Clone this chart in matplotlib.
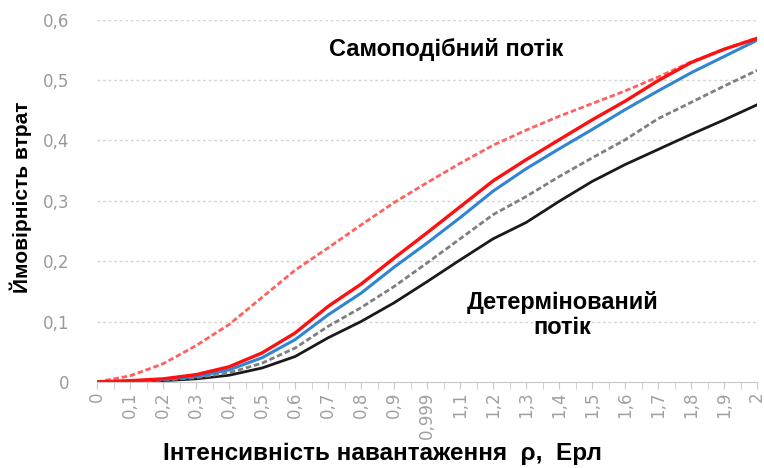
import numpy as np
import matplotlib.pyplot as plt

plt.rcParams['font.family'] = ['Liberation Sans', 'DejaVu Sans']

# категорії осі x (інтенсивність навантаження, Ерл)
x_labels = ['0', '0,1', '0,2', '0,3', '0,4', '0,5', '0,6', '0,7', '0,8', '0,9', '0,999',
            '1,1', '1,2', '1,3', '1,4', '1,5', '1,6', '1,7', '1,8', '1,9', '2']

# ймовірність втрат
red_dash = [0, 0.01, 0.03, 0.06, 0.095, 0.14, 0.185, 0.222, 0.26, 0.297, 0.33,
            0.362, 0.392, 0.417, 0.44, 0.461, 0.482, 0.505, 0.53, 0.551, 0.57]
red = [0, 0.002, 0.005, 0.012, 0.025, 0.048, 0.081, 0.125, 0.162, 0.205, 0.247,
       0.29, 0.333, 0.368, 0.401, 0.434, 0.465, 0.499, 0.529, 0.551, 0.569]
blue = [0, 0.001, 0.004, 0.009, 0.02, 0.04, 0.07, 0.111, 0.147, 0.19, 0.23,
        0.272, 0.316, 0.353, 0.386, 0.418, 0.451, 0.482, 0.512, 0.539, 0.566]
gray = [0, 0.001, 0.003, 0.007, 0.015, 0.031, 0.056, 0.092, 0.123, 0.158, 0.197,
        0.237, 0.277, 0.307, 0.34, 0.371, 0.401, 0.436, 0.463, 0.49, 0.516]
black = [0, 0.0, 0.002, 0.005, 0.011, 0.023, 0.042, 0.073, 0.1, 0.131, 0.166,
         0.202, 0.237, 0.264, 0.299, 0.332, 0.36, 0.385, 0.41, 0.434, 0.459]

y_ticks = [0, 0.1, 0.2, 0.3, 0.4, 0.5, 0.6]
y_labels = ['0', '0,1', '0,2', '0,3', '0,4', '0,5', '0,6']

fig = plt.figure(figsize=(7.64, 4.68), dpi=100)
ax = fig.add_axes([0.127, 0.184, 0.864, 0.774])

x = np.arange(len(x_labels))

for yt in y_ticks[1:]:
    ax.axhline(yt, color='#d4d4d4', lw=1, ls=(0, (2, 2)), zorder=0)

ax.plot(x, black, color='#1a1a1a', lw=2)
ax.plot(x, gray, color='#7f7f7f', lw=2, ls=(0, (2, 1)))
ax.plot(x, red_dash, color='#ff6060', lw=2, ls=(0, (2, 1)))
ax.plot(x, blue, color='#2f84d4', lw=2.2)
ax.plot(x, red, color='#ff1010', lw=2.4)

ax.set_xlim(0, len(x_labels) - 1)
ax.set_ylim(0, 0.6)

ax.set_xticks(x)
ax.set_xticklabels(x_labels, rotation=90, color='#a0a0a0', fontsize=12,
                   family=['DejaVu Sans'])
ax.set_xticks(x[:-1] + 0.5, minor=True)
ax.tick_params(axis='x', which='both', length=5, color='#c8c8c8', pad=2)

ax.set_yticks(y_ticks)
ax.set_yticklabels(y_labels, color='#999999', fontsize=12, family=['DejaVu Sans'])
ax.tick_params(axis='y', length=0, pad=20)

for s in ['top', 'right', 'left']:
    ax.spines[s].set_visible(False)
ax.spines['bottom'].set_color('#c8c8c8')

fig.text(0.027, 0.579, 'Ймовірність втрат', fontsize=15, fontweight='bold',
         rotation=90, ha='center', va='center')
fig.text(0.501, 0.03, 'Інтенсивність навантаження  ρ,  Ерл', fontsize=17.5,
         fontweight='bold', ha='center', va='center')

ax.text(10.58, 0.55, 'Самоподібний потік', fontsize=17, fontweight='bold',
        ha='center', va='center')
ax.text(14.1, 0.111, 'Детермінований\nпотік', fontsize=17, fontweight='bold',
        ha='center', va='center', linespacing=1.1)

fig.savefig('out.png', dpi=100)
